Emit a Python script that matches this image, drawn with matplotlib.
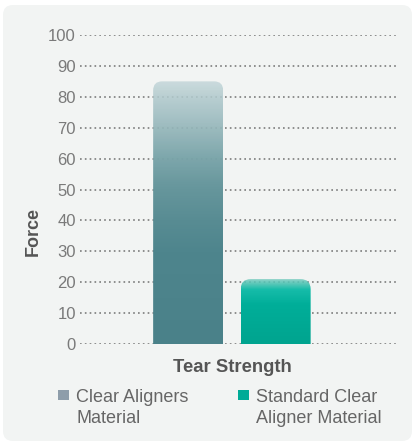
import numpy as np
import matplotlib.pyplot as plt
from matplotlib.patches import FancyBboxPatch, Rectangle
from matplotlib.colors import LinearSegmentedColormap

# data
categories = ["Tear Strength"]
series_names = ["Clear Aligners\nMaterial", "Standard Clear\nAligner Material"]
series_values = [[85], [21]]
yticks = list(range(0, 101, 10))

# gradient stops (fraction of bar height from bottom, colour)
grad1 = [(0, '#4a8189'), (0.35, '#4e858d'), (0.47, '#588c93'), (0.59, '#66969c'),
         (0.71, '#79a4a9'), (0.82, '#93b5b9'), (0.94, '#b0c9cc'), (1, '#c3d6d9')]
grad2 = [(0, '#00a48f'), (0.6, '#00ae99'), (0.84, '#00b7a2'), (0.92, '#3cc0ae'), (1, '#7accc0')]
legend_colors = ['#8e9daa', '#00ab97']

plt.rcParams['font.family'] = ['Liberation Sans', 'DejaVu Sans']

W, H = 416, 445
fig = plt.figure(figsize=(W / 100, H / 100), dpi=100)
fig.patch.set_facecolor('white')

# background panel (pixel coords)
bg = fig.add_axes([0, 0, 1, 1])
bg.set_xlim(0, W)
bg.set_ylim(H, 0)
bg.axis('off')
bg.add_patch(FancyBboxPatch((3, 5), 409, 436, boxstyle="round,pad=0,rounding_size=10",
                            fc='#f2f4f3', ec='none'))

ax = fig.add_axes([80 / W, (H - 344) / H, 317 / W, 309 / H])
ax.patch.set_alpha(0)
for s in ax.spines.values():
    s.set_visible(False)

xlim = (-1.736, 1.887)
ylim = (0, 100)
width = 0.8
x = np.arange(len(categories))
offsets = [-0.5, 0.5]

ax.set_yticks(yticks)
ax.grid(axis='y', linestyle=(0, (1, 1.9)), color='#7c7c7c', lw=1.2, zorder=0)
ax.set_axisbelow(True)
ax.set_xticks(x)
ax.set_xticklabels(categories, fontsize=13.3, fontweight='bold', color='#555555')
ax.tick_params(axis='x', length=0, pad=11)
ax.tick_params(axis='y', length=0, pad=3, labelsize=12, labelcolor='#7a7a7a')

px_x = (xlim[1] - xlim[0]) / 317
px_y = (ylim[1] - ylim[0]) / 309
asp = px_y / px_x

for vals, off, stops, rad in zip(series_values, offsets, [grad1, grad2], [9, 10]):
    bars = ax.bar(x + off, vals, width, color='none', edgecolor='none')
    cmap = LinearSegmentedColormap.from_list('g', stops)
    for b in bars:
        x0, w, h = b.get_x(), b.get_width(), b.get_height()
        r = rad * px_x
        shape = FancyBboxPatch((x0, -10), w, h + 10,
                               boxstyle=f"round,pad=0,rounding_size={r}",
                               mutation_aspect=asp, fc='none', ec='none')
        ax.add_patch(shape)
        t = np.linspace(1, 0, 200)[:, None]
        rgba = cmap(t)
        rgba[..., 3] = np.clip(0.85 + (1 - t) * 0.4, 0, 1)
        im = ax.imshow(rgba, extent=(x0, x0 + w, 0, h), aspect='auto', zorder=2,
                       interpolation='bilinear')
        im.set_clip_path(shape)

ax.set_xlim(*xlim)
ax.set_ylim(*ylim)

bg.text(33, 232, "Force", rotation=90, ha='center', va='center',
        fontsize=13, fontweight='bold', color='#555555')

# legend
for name, col, lx in zip(series_names, legend_colors, [58, 238]):
    bg.add_patch(Rectangle((lx, 390), 11, 10, fc=col, ec='none'))
    bg.text(lx + 18, 423.3, name, ha='left', va='baseline', fontsize=13,
            color='#666666', linespacing=1.3)

fig.savefig('out.png', dpi=100)
